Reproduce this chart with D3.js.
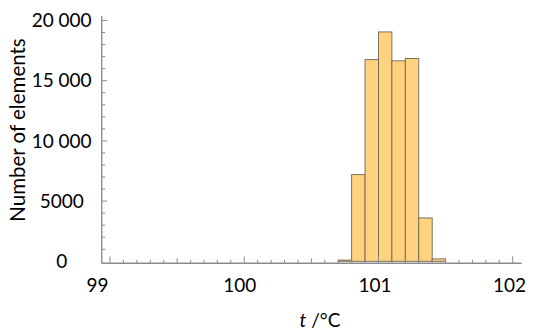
<!DOCTYPE html>
<html><head><meta charset="utf-8">
<script src="https://cdn.jsdelivr.net/npm/d3@7"></script>
<style>body{margin:0;background:#fff}svg{display:block}text{font-family:Lato,"Open Sans",sans-serif;fill:#000}</style>
</head><body><svg id="c" width="533" height="336"></svg>
<script>
const binStarts = [100.7, 100.8, 100.9, 101.0, 101.1, 101.2, 101.3, 101.4];
const binWidth = 0.1;
const counts = [100, 7200, 16750, 19050, 16650, 16850, 3600, 200];
const xTickValues = [99, 100, 101, 102];
const xTickLabels = ["99", "100", "101", "102"];
const yTickValues = [0, 5000, 10000, 15000, 20000];
const yTickLabels = ["0", "5000", "10\u2005000", "15\u2005000", "20\u2005000"];

const svg = d3.select("#c");
const x = d3.scaleLinear().domain([98.938, 102.067]).range([101.7, 521.7]);
const y = d3.scaleLinear().domain([-166, 20374]).range([263.3, 16]);
const axisColor = "#8c8c8c";

// bars
svg.append("g").selectAll("rect").data(binStarts).join("rect")
  .attr("x", d => x(d))
  .attr("width", d => x(d + binWidth) - x(d))
  .attr("y", (d, i) => y(counts[i]))
  .attr("height", (d, i) => y(0) - y(counts[i]))
  .attr("fill", "#ffd27f")
  .attr("stroke", "#6f6555")
  .attr("stroke-width", 0.9);

// x axis
const gx = svg.append("g");
gx.append("line").attr("x1", x.range()[0]).attr("x2", x.range()[1])
  .attr("y1", y(-166)).attr("y2", y(-166)).attr("stroke", axisColor).attr("stroke-width", 1.4);
const xMinor = d3.range(990, 1021).map(d => d / 10);
gx.selectAll("line.t").data(xMinor).join("line").attr("class", "t")
  .attr("x1", d => x(d)).attr("x2", d => x(d))
  .attr("y1", y(-166))
  .attr("y2", d => { const k = Math.round(d * 10) % 10; return y(-166) - (k === 0 ? 7 : k === 5 ? 5 : 3.5); })
  .attr("stroke", axisColor).attr("stroke-width", 1);
const xOff = [-12.5, -4.5, -3.5, -3.3];
gx.selectAll("text").data(xTickValues).join("text")
  .attr("x", (d, i) => x(d) + xOff[i]).attr("y", 291.5)
  .attr("text-anchor", "middle").attr("font-size", 19)
  .text((d, i) => xTickLabels[i]);

// y axis
const gy = svg.append("g");
gy.append("line").attr("x1", x(98.938)).attr("x2", x(98.938))
  .attr("y1", y.range()[0]).attr("y2", y.range()[1]).attr("stroke", axisColor).attr("stroke-width", 1.4);
const yMinor = d3.range(1, 21).map(d => d * 1000);
gy.selectAll("line.t").data(yMinor).join("line").attr("class", "t")
  .attr("x1", x(98.938))
  .attr("x2", d => x(98.938) + (d % 5000 === 0 ? 5.5 : 3.5))
  .attr("y1", d => y(d)).attr("y2", d => y(d))
  .attr("stroke", axisColor).attr("stroke-width", 1);
gy.selectAll("text").data(yTickValues).join("text")
  .attr("x", 61.7).attr("y", d => y(d)).attr("dy", "0.35em")
  .attr("text-anchor", "middle").attr("font-size", 19)
  .text((d, i) => yTickLabels[i]);

// titles
svg.append("text").attr("transform", "translate(25,130) rotate(-90)")
  .attr("text-anchor", "middle").attr("font-size", 20.5).text("Number of elements");
const xt = svg.append("text").attr("x", 320).attr("y", 327).attr("text-anchor", "middle").attr("font-size", 19);
xt.append("tspan").attr("font-style", "italic").text("t");
xt.append("tspan").text(" /°C");
</script></body></html>
